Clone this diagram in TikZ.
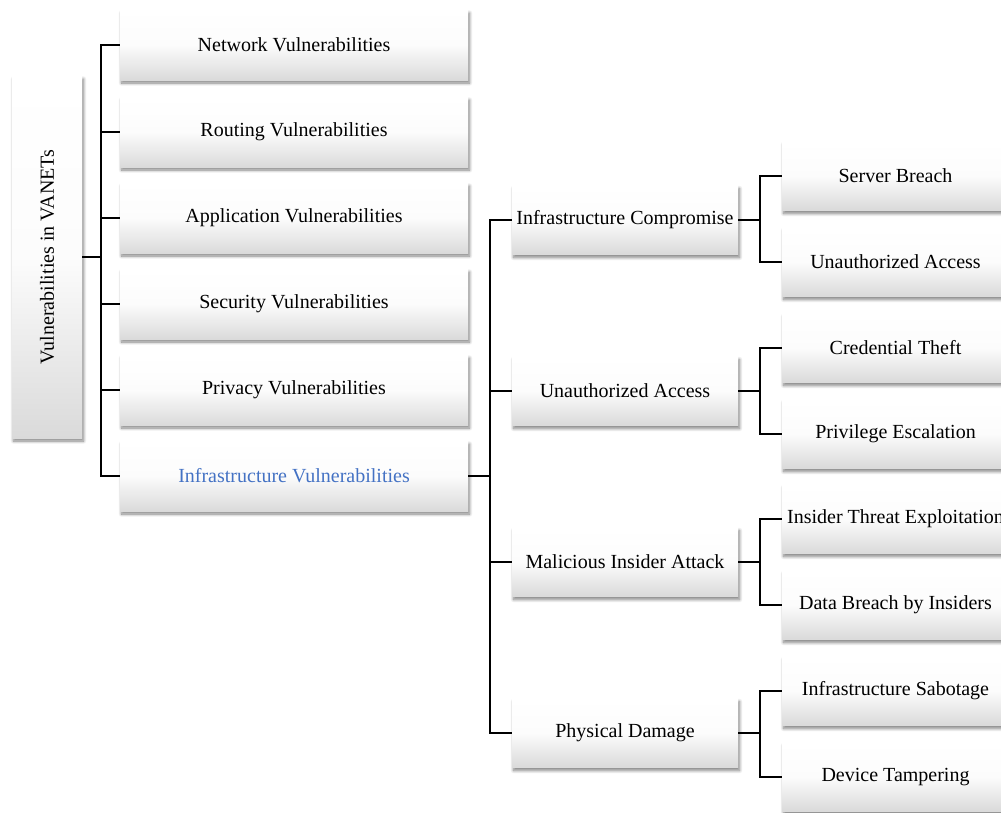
\documentclass[tikz,border=0pt]{standalone}
\usepackage{fontspec}
\setmainfont{Liberation Serif}
\usetikzlibrary{shadows.blur}
\definecolor{accentblue}{HTML}{4472C4}
\definecolor{boxbottom}{HTML}{DADADA}
\tikzset{
  card/.style={rectangle, inner sep=0pt, align=center,
    top color=white, bottom color=boxbottom, middle color=white!92!boxbottom,
    font=\fontsize{20}{23}\selectfont,
    blur shadow={shadow xshift=1.5pt, shadow yshift=-3pt, shadow blur radius=3pt,
                 shadow blur steps=10, shadow opacity=50}},
  rootbox/.style={card, minimum width=70pt, minimum height=362pt},
  topic/.style={card, minimum width=348pt, minimum height=70pt},
  threat/.style={card, minimum width=226pt, minimum height=69pt},
  leaf/.style={card, minimum width=227pt, minimum height=69pt},
  link/.style={draw=black, line width=2pt},
}
\begin{document}
\begin{tikzpicture}[x=1pt, y=-1pt]
\useasboundingbox (0,0) rectangle (1001,812);

% root of the tree
\node[rootbox] (root) at (47,257) {};
\node[rotate=90, font=\fontsize{20}{23}\selectfont] (roottext) at (root.center) {Vulnerabilities in VANETs};

% first level: vulnerability categories
\node[topic] (net)   at (294,45)  {Network Vulnerabilities};
\node[topic] (route) at (294,132) {Routing Vulnerabilities};
\node[topic] (app)   at (294,218) {Application Vulnerabilities};
\node[topic] (sec)   at (294,304) {Security Vulnerabilities};
\node[topic] (priv)  at (294,390) {Privacy Vulnerabilities};
\node[topic, text=accentblue] (infra) at (294,476) {Infrastructure Vulnerabilities};

% second level: infrastructure threats
\node[threat] (comp)    at (625,220) {Infrastructure Compromise};
\node[threat] (unauth)  at (625,391) {Unauthorized Access};
\node[threat] (insider) at (625,562) {Malicious Insider Attack};
\node[threat] (phys)    at (625,733) {Physical Damage};

% third level: concrete attacks
\node[leaf] (srv)   at (895.5,176) {Server Breach};
\node[leaf] (ua)    at (895.5,262) {Unauthorized Access};
\node[leaf] (cred)  at (895.5,348) {Credential Theft};
\node[leaf] (priv2) at (895.5,434) {Privilege Escalation};
\node[leaf] (ite)   at (895.5,519) {Insider Threat Exploitation};
\node[leaf] (dbi)   at (895.5,605) {Data Breach by Insiders};
\node[leaf] (sab)   at (895.5,691) {Infrastructure Sabotage};
\node[leaf] (tamp)  at (895.5,777) {Device Tampering};

% connectors
\foreach \c in {net,route,app,sec,priv,infra}
  \draw[link] (root.east) -- ++(19,0) |- (\c.west);
\foreach \c in {comp,unauth,insider,phys}
  \draw[link] (infra.east) -- ++(22,0) |- (\c.west);
\foreach \p/\a/\b in {comp/srv/ua, unauth/cred/priv2, insider/ite/dbi, phys/sab/tamp}{
  \draw[link] (\p.east) -- ++(22,0) |- (\a.west);
  \draw[link] (\p.east) -- ++(22,0) |- (\b.west);
}
\end{tikzpicture}
\end{document}
